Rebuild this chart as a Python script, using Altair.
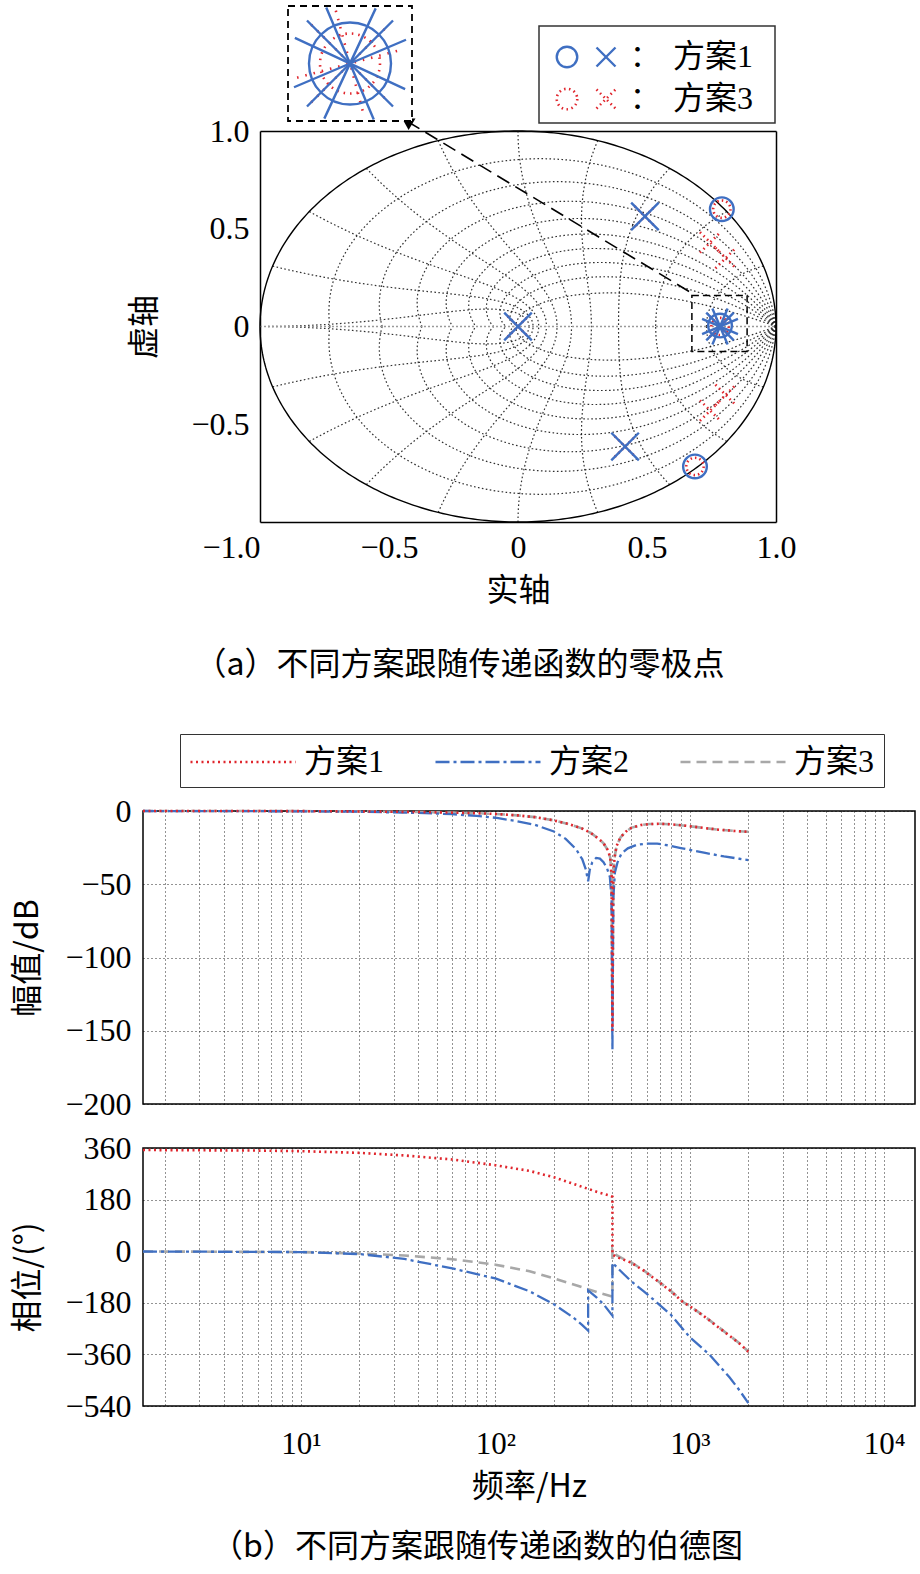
import altair as alt
import numpy as np
import pandas as pd

SERIF = "Liberation Serif, Noto Sans CJK SC, serif"
CJK = "Noto Sans CJK SC, Liberation Serif, sans-serif"
RED = "#e0262d"
BLUE = "#3f6fc2"
GRAY = "#a8a8a8"
XSHAPE = "M-1,-1L1,1M-1,1L1,-1"
LONG_STROKE = "M-3,0L3,0"

# ================= (a) pole-zero map data =================
zero1_re = [0.790, 0.686, 0.783]
zero1_im = [0.600, -0.716, 0.005]
pole1_re = [0.492, 0.415, 0.000, 0.783, 0.783, 0.783]
pole1_im = [0.563, -0.614, 0.000, 0.000, 0.000, 0.000]
pole1_rot = [0, 0, 0, 0, 22, 338]
zero3_re = [0.790, 0.686, 0.783]
zero3_im = [0.600, -0.716, 0.000]
pole3_re = [0.492, 0.415, 0.000, 0.783, 0.745, 0.805, 0.745, 0.805]
pole3_im = [0.563, -0.614, 0.000, 0.000, 0.430, 0.350, -0.430, -0.350]
zoom_box_re = [0.674, 0.888]
zoom_box_im = [-0.128, 0.159]
arrow_re = [0.663, -0.430]
arrow_im = [0.179, 1.050]
inset_cross_rot = [0, 340, 22]
inset_dotx_rot = [0, 30]
legend_rows = ["方案1", "方案3"]

# MATLAB zgrid default levels
zeta_levels = [0.1, 0.2, 0.3, 0.4, 0.5, 0.6, 0.7, 0.8, 0.9]
wn_levels = [0.1, 0.2, 0.3, 0.4, 0.5, 0.6, 0.7, 0.8, 0.9, 1.0]  # x pi

# ================= (b) Bode data =================
f_mag1 = [1.54, 5, 10, 20, 40, 60, 80, 100, 130, 160, 200, 240, 280, 310, 340, 360, 380, 390, 396,
          400, 404, 410, 420, 440, 470, 500, 560, 620, 700, 800, 900, 1000, 1200, 1400, 1700, 2000]
mag1 = [0, 0, -0.1, -0.3, -0.7, -1.1, -1.5, -2.0, -3.0, -4.2, -6.4, -9.0, -12.0, -15.0, -19.0, -22.0, -27.0, -32.0, -45.0,
        -150.0, -45.0, -32.0, -24.0, -18.0, -14.0, -11.5, -9.6, -8.9, -8.7, -9.1, -9.7, -10.4, -11.7, -12.7, -13.6, -14.2]
f_mag3 = [1.54, 5, 10, 20, 40, 60, 80, 100, 130, 160, 200, 240, 280, 310, 340, 360, 380, 390, 396,
          400, 404, 410, 420, 440, 470, 500, 560, 620, 700, 800, 900, 1000, 1200, 1400, 1700, 2000]
mag3 = [0, 0, -0.1, -0.3, -0.7, -1.1, -1.5, -2.0, -3.0, -4.2, -6.4, -9.0, -12.0, -15.0, -19.0, -22.0, -27.0, -32.0, -45.0,
        -140.0, -45.0, -32.0, -24.0, -18.0, -14.0, -11.5, -9.6, -8.9, -8.7, -9.1, -9.7, -10.4, -11.7, -12.7, -13.6, -14.2]
f_mag2 = [1.54, 10, 20, 40, 60, 80, 100, 130, 160, 200, 230, 260, 280, 292, 300, 306, 315, 330, 345, 360, 375, 388, 396,
          400, 404, 412, 425, 445, 480, 530, 600, 680, 780, 900, 1000, 1200, 1500, 1800, 2000]
mag2 = [0, -0.2, -0.5, -1.3, -2.2, -3.3, -4.6, -7.0, -9.5, -14.0, -19.0, -26.0, -33.0, -40.0, -48.0, -40.0, -35.0, -32.0, -32.5, -35.0, -39.0, -45.0, -60.0,
        -163.0, -60.0, -42.0, -35.0, -29.0, -25.5, -23.2, -22.2, -22.3, -23.5, -25.3, -26.5, -28.6, -31.0, -32.6, -33.5]

f_ph1 = [1.54, 3, 6, 10, 20, 34, 60, 100, 150, 200, 270, 340, 380, 400, 400,
         420, 450, 500, 580, 680, 800, 930, 1000, 1200, 1400, 1600, 1800, 2000]
ph1 = [353, 352, 351, 349, 343, 334, 320, 300, 280, 258, 228, 205, 196, 190, -12,
       -20, -28, -40, -68, -103, -140, -180, -192, -230, -265, -295, -322, -351]
f_ph3 = [1.54, 10, 20, 34, 60, 100, 150, 200, 270, 340, 400, 400,
         420, 450, 500, 580, 680, 800, 930, 1000, 1200, 1400, 1600, 1800, 2000]
ph3 = [-1, -3, -8, -15, -28, -47, -70, -95, -122, -145, -158, 8,
       -14, -25, -39, -67, -102, -139, -179, -191, -229, -264, -294, -321, -350]
f_ph2 = [1.54, 10, 20, 34, 60, 100, 150, 200, 250, 280, 300, 300, 330, 360, 400, 400,
         420, 450, 500, 580, 680, 800, 1000, 1260, 1600, 1800, 2000]
ph2 = [-1, -3, -10, -27, -60, -95, -140, -185, -230, -258, -277, -137, -160, -185, -225, -40,
       -55, -75, -105, -140, -180, -222, -300, -360, -440, -485, -530]

series_names = ["方案1", "方案2", "方案3"]
freq_ticks = [m * 10 ** k for k in range(0, 4) for m in range(1, 10) if m * 10 ** k >= 2] + [10000]
mag_ticks = [0, -50, -100, -150, -200]
ph_ticks = [360, 180, 0, -180, -360, -540]

# ================= build (a) =================
th = np.linspace(0.0, np.pi, 241)
zrows = []
for z in zeta_levels:
    m = z / np.sqrt(1 - z * z)
    r = np.exp(-m * th)
    for sg in (1, -1):
        for k in range(len(th)):
            zrows.append({"re": r[k] * np.cos(th[k]), "im": sg * r[k] * np.sin(th[k]), "g": f"z{z}{sg}", "o": k})
zeta_df = pd.DataFrame(zrows)

zt = np.linspace(0.0, 1.0, 121)
wrows = []
for w in wn_levels:
    wn = w * np.pi
    rr = np.exp(-wn * zt)
    aa = wn * np.sqrt(1 - zt ** 2)
    for sg in (1, -1):
        for k in range(len(zt)):
            wrows.append({"re": rr[k] * np.cos(aa[k]), "im": sg * rr[k] * np.sin(aa[k]), "g": f"w{w}{sg}", "o": k})
wn_df = pd.DataFrame(wrows)

tc = np.linspace(0, 2 * np.pi, 361)
circ_df = pd.DataFrame({"re": np.cos(tc), "im": np.sin(tc), "o": np.arange(361)})

xsc = alt.Scale(domain=[-1, 1], range=[117, 633], nice=False, zero=False)
ysc = alt.Scale(domain=[-1, 1], range=[516, 125], nice=False, zero=False)
num_expr = "datum.value == 0 ? '0' : format(datum.value, '.1f')"

ax_bottom = alt.Axis(orient="bottom", values=[-1, -0.5, 0, 0.5, 1], labelExpr=num_expr, ticks=False, grid=False,
                     labelPadding=10, labelFlush=False,
                     labelAlign={"condition": {"test": "datum.value == -1", "value": "right"}, "value": "center"},
                     title="实轴", titlePadding=12, domainWidth=1.5, domainColor="black")
ax_left = alt.Axis(orient="left", offset=-117, values=[-0.5, 0, 0.5, 1], labelExpr=num_expr, ticks=False, grid=False,
                   labelPadding=11, title="虚轴", titlePadding=29, domainWidth=1.5, domainColor="black")
ax_top = alt.Axis(orient="top", offset=-125, labels=False, ticks=False, grid=False, title=None, domainWidth=1.5, domainColor="black")
ax_right = alt.Axis(orient="right", labels=False, ticks=False, grid=False, title=None, domainWidth=1.5, domainColor="black")

def XP(axis=None):
    return alt.X("re:Q", scale=xsc, axis=axis)

def YP(axis=None):
    return alt.Y("im:Q", scale=ysc, axis=axis)

GRID_STYLE = dict(color="#1a1a1a", strokeWidth=1.2, strokeDash=[1.6, 2.4], opacity=0.9)
zeta_layer = alt.Chart(zeta_df).mark_line(**GRID_STYLE).encode(
    x=XP(ax_bottom), y=YP(ax_left), detail="g:N", order="o:Q")
wn_layer = alt.Chart(wn_df).mark_line(**GRID_STYLE).encode(
    x=XP(), y=YP(), detail="g:N", order="o:Q")
real_axis = alt.Chart(pd.DataFrame({"k": [0]})).mark_rule(color="#9a9a9a", strokeWidth=1.6, strokeDash=[2, 2]).encode(
    x=alt.X(datum=-1, type="quantitative", scale=xsc, axis=None), x2=alt.X2(datum=1),
    y=alt.Y(datum=0, type="quantitative", scale=ysc, axis=None))
circle_layer = alt.Chart(circ_df).mark_line(color="black", strokeWidth=1.4).encode(
    x=XP(ax_top), y=YP(ax_right), order="o:Q")
zoombox = alt.Chart(pd.DataFrame({"x0": [zoom_box_re[0]], "x1": [zoom_box_re[1]], "y0": [zoom_box_im[0]], "y1": [zoom_box_im[1]]})).mark_rect(
    fillOpacity=0, stroke="black", strokeWidth=1.5, strokeDash=[7, 4]).encode(
    x=alt.X("x0:Q", scale=xsc, axis=None), x2="x1:Q", y=alt.Y("y0:Q", scale=ysc, axis=None), y2="y1:Q")
arrow_df = pd.DataFrame({"re": arrow_re, "im": arrow_im, "o": [0, 1]})
arrow_line = alt.Chart(arrow_df).mark_line(color="black", strokeWidth=1.6, strokeDash=[14, 7]).encode(
    x=XP(), y=YP(), order="o:Q")
arrow_head = alt.Chart(arrow_df.iloc[[1]]).mark_point(shape="triangle-up", filled=True, size=180, angle=301,
                                                        color="black", opacity=1).encode(x=XP(), y=YP())
red_zero = alt.Chart(pd.DataFrame({"re": zero3_re, "im": zero3_im})).mark_point(
    shape="circle", filled=False, size=300, strokeWidth=2.6, strokeDash=[1.5, 3], color=RED, opacity=1).encode(x=XP(), y=YP())
red_pole = alt.Chart(pd.DataFrame({"re": pole3_re, "im": pole3_im})).mark_point(
    shape=XSHAPE, filled=False, size=420, strokeWidth=2.6, strokeDash=[1.5, 3.5], color=RED, opacity=1).encode(x=XP(), y=YP())
blue_zero = alt.Chart(pd.DataFrame({"re": zero1_re, "im": zero1_im})).mark_point(
    shape="circle", filled=False, size=560, strokeWidth=2.4, color=BLUE, opacity=1).encode(x=XP(), y=YP())
blue_pole = alt.Chart(pd.DataFrame({"re": pole1_re, "im": pole1_im, "rot": pole1_rot})).mark_point(
    shape=XSHAPE, filled=False, size=760, strokeWidth=2.4, color=BLUE, opacity=1).encode(
    x=XP(), y=YP(), angle=alt.Angle("rot:Q", scale=None))

pz = alt.layer(zeta_layer, wn_layer, real_axis, circle_layer, zoombox, arrow_line, arrow_head,
               red_zero, red_pole, blue_zero, blue_pole)

# magnified inset
isx = alt.Scale(domain=[-1, 1], range=[145, 269], nice=False, zero=False)
isy = alt.Scale(domain=[-1, 1], range=[115, 0], nice=False, zero=False)
c0 = pd.DataFrame({"ix": [0], "iy": [0]})
IX = alt.X("ix:Q", scale=isx, axis=None)
IY = alt.Y("iy:Q", scale=isy, axis=None)
inset_frame = alt.Chart(c0).mark_rect(fill="white", stroke="black", strokeWidth=1.8, strokeDash=[7, 5]).encode(
    x=alt.X(datum=-1, type="quantitative", scale=isx, axis=None), x2=alt.X2(datum=1),
    y=alt.Y(datum=-1, type="quantitative", scale=isy, axis=None), y2=alt.Y2(datum=1))
inset_rc = alt.Chart(c0).mark_point(shape="circle", filled=False, size=3600, strokeWidth=2.6, strokeDash=[1.5, 5],
                                    color=RED, opacity=1).encode(x=IX, y=IY)
inset_rx = alt.Chart(pd.DataFrame({"ix": [0, 0], "iy": [0, 0], "rot": inset_dotx_rot})).mark_point(
    shape=XSHAPE, filled=False, size=6000, strokeWidth=2.6, strokeDash=[1.5, 7], color=RED, opacity=1).encode(
    x=IX, y=IY, angle=alt.Angle("rot:Q", scale=None))
inset_bc = alt.Chart(c0).mark_point(shape="circle", filled=False, size=6724, strokeWidth=2.4, color=BLUE, opacity=1).encode(x=IX, y=IY)
inset_bx = alt.Chart(pd.DataFrame({"ix": [0, 0, 0], "iy": [0, 0, 0], "rot": inset_cross_rot})).mark_point(
    shape=XSHAPE, filled=False, size=7400, strokeWidth=2.4, color=BLUE, opacity=1).encode(
    x=IX, y=IY, angle=alt.Angle("rot:Q", scale=None))
inset = alt.layer(inset_frame, inset_rc, inset_rx, inset_bc, inset_bx)

# legend of (a)
lxs = alt.Scale(type="point", domain=["c", "x", "colon"], range=[424, 502], padding=0)
lys = alt.Scale(type="point", domain=legend_rows, range=[51, 93], padding=0)
sym_df = pd.DataFrame({"row": [legend_rows[0], legend_rows[0], legend_rows[1], legend_rows[1]],
                       "col": ["c", "x", "c", "x"]})
txt_df = pd.DataFrame({"row": legend_rows, "col": ["colon", "colon"], "lab": legend_rows})
LX = alt.X("col:N", scale=lxs, axis=None)
LY = alt.Y("row:N", scale=lys, axis=None)
leg_frame = alt.Chart(pd.DataFrame({"k": [0]})).mark_rect(fillOpacity=0, stroke="#333333", strokeWidth=1.5).encode(
    x=alt.value(396), x2=alt.value(632), y=alt.value(20), y2=alt.value(117))
leg_bc = alt.Chart(sym_df).transform_filter("datum.row == '方案1' && datum.col == 'c'").mark_point(
    shape="circle", filled=False, size=420, strokeWidth=2.4, color=BLUE, opacity=1).encode(x=LX, y=LY)
leg_bx = alt.Chart(sym_df).transform_filter("datum.row == '方案1' && datum.col == 'x'").mark_point(
    shape=XSHAPE, filled=False, size=360, strokeWidth=2.4, color=BLUE, opacity=1).encode(x=LX, y=LY)
leg_rc = alt.Chart(sym_df).transform_filter("datum.row == '方案3' && datum.col == 'c'").mark_point(
    shape="circle", filled=False, size=420, strokeWidth=2.6, strokeDash=[1.5, 3.5], color=RED, opacity=1).encode(x=LX, y=LY)
leg_rx = alt.Chart(sym_df).transform_filter("datum.row == '方案3' && datum.col == 'x'").mark_point(
    shape=XSHAPE, filled=False, size=360, strokeWidth=2.6, strokeDash=[1.5, 3.5], color=RED, opacity=1).encode(x=LX, y=LY)
leg_colon = alt.Chart(txt_df).mark_text(text="：", font=CJK, fontSize=30, color="black", baseline="middle").encode(x=LX, y=LY)
leg_lab = alt.Chart(txt_df).mark_text(font=SERIF, fontSize=32, color="black", baseline="middle", align="left", dx=28).encode(
    x=LX, y=LY, text="lab:N")
pz_legend = alt.layer(leg_frame, leg_rc, leg_rx, leg_bc, leg_bx, leg_colon, leg_lab)

top = alt.layer(pz, inset, pz_legend).resolve_scale(x="independent", y="independent").properties(
    width=633, height=516,
    title=alt.Title("（a）不同方案跟随传递函数的零极点", orient="bottom", anchor="middle", font=CJK, fontSize=32,
                    fontWeight="normal", color="black", offset=44))

# ================= build (b) =================
def mk(fs, vs, name):
    return pd.DataFrame({"f": fs, "v": vs, "s": name, "o": np.arange(len(fs))})

mag_df = pd.concat([mk(f_mag1, mag1, "方案1"), mk(f_mag2, mag2, "方案2"), mk(f_mag3, mag3, "方案3")])
ph_df = pd.concat([mk(f_ph1, ph1, "方案1"), mk(f_ph2, ph2, "方案2"), mk(f_ph3, ph3, "方案3")])

fscale = alt.Scale(type="log", domain=[1.54, 14400], nice=False)
color_sc = alt.Scale(domain=series_names, range=[RED, BLUE, GRAY])
dash_sc = alt.Scale(domain=series_names, range=[[2, 3.5], [14, 4, 3, 4], [10, 6]])
width_by = {"方案1": 2.6, "方案2": 2.3, "方案3": 2.6}

sup_expr = ("datum.value == 10 ? '10¹' : datum.value == 100 ? '10²' : datum.value == 1000 ? '10³' : "
            "datum.value == 10000 ? '10⁴' : ''")
x_mag_axis = alt.Axis(values=freq_ticks, labels=False, ticks=False, domain=False, grid=True, title=None)
x_ph_axis = alt.Axis(values=freq_ticks, labelExpr=sup_expr, labelOverlap=False, labelFlush=False, ticks=False,
                     domain=False, grid=True, labelFontSize=31, labelPadding=23, title="频率/Hz", titlePadding=12)
y_mag_axis = alt.Axis(values=mag_ticks, ticks=False, domain=False, grid=True, labelPadding=12,
                      title="幅值/dB", titlePadding=20)
y_ph_axis = alt.Axis(values=ph_ticks, ticks=False, domain=False, grid=True, labelPadding=12,
                     title="相位/(°)", titlePadding=20)
bode_legend = alt.Legend(title=None, orient="none", legendX=37, legendY=-77, direction="horizontal", columns=3,
                         symbolType=LONG_STROKE, symbolSize=1225, symbolStrokeWidth=2.6, symbolOffset=35,
                         labelFont=SERIF, labelFontSize=32, labelColor="black", strokeColor="#333333", padding=9,
                         columnPadding=45, labelOffset=42, fillColor="white", labelLimit=0)

def bode_layers(df, yscale, yaxis, xaxis, legend):
    out = []
    for name in ["方案3", "方案2", "方案1"]:
        out.append(alt.Chart(df).transform_filter(alt.datum.s == name).mark_line(strokeWidth=width_by[name]).encode(
            x=alt.X("f:Q", scale=fscale, axis=xaxis),
            y=alt.Y("v:Q", scale=yscale, axis=yaxis),
            color=alt.Color("s:N", scale=color_sc, legend=legend),
            strokeDash=alt.StrokeDash("s:N", scale=dash_sc, legend=legend),
            order="o:Q"))
    return out

frame = alt.ViewBackground(stroke="black", strokeWidth=1.5)
mag = alt.layer(*bode_layers(mag_df, alt.Scale(domain=[-200, 0], nice=False), y_mag_axis, x_mag_axis, bode_legend)).properties(
    width=772, height=293, view=frame)
phase = alt.layer(*bode_layers(ph_df, alt.Scale(domain=[-540, 360], nice=False), y_ph_axis, x_ph_axis, None)).properties(
    width=772, height=258, view=frame,
    title=alt.Title("（b）不同方案跟随传递函数的伯德图", orient="bottom", anchor="middle", font=CJK, fontSize=32,
                    fontWeight="normal", color="black", offset=30, dx=-52))
bode = alt.vconcat(mag, phase, spacing=10).resolve_scale(color="independent", strokeDash="independent").resolve_legend(
    color="independent", strokeDash="independent")

chart = alt.vconcat(top, bode, spacing=51).properties(
    padding={"left": 11, "top": 2, "right": 2, "bottom": 8}
).configure_view(stroke=None).configure_axis(
    labelFont=SERIF, labelFontSize=32, labelColor="black", titleFont=CJK, titleFontSize=32, titleFontWeight="normal",
    titleColor="black", gridColor="black", gridDash=[1, 3], gridWidth=1, gridOpacity=0.85, domainColor="black"
)

chart.save("out.html", embed_options={"renderer": "svg", "actions": False})
